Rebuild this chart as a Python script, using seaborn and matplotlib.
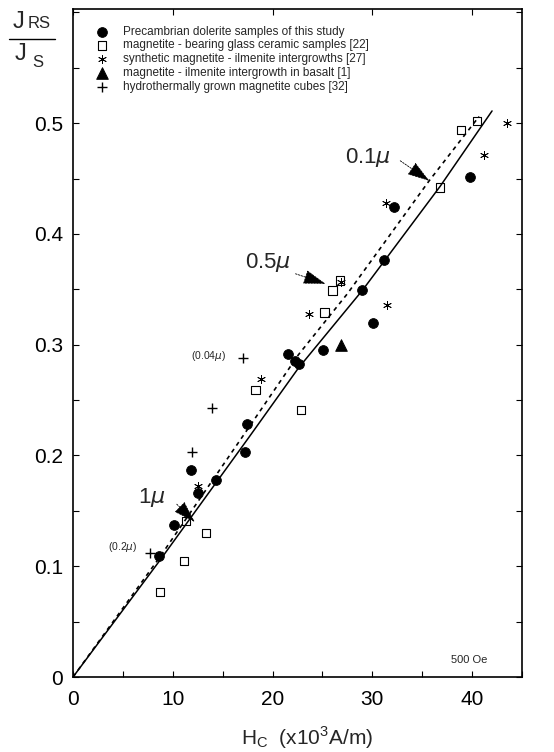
import numpy as np
import pandas as pd
import seaborn as sns
import matplotlib.pyplot as plt
from matplotlib.ticker import MultipleLocator, FixedLocator, FuncFormatter
from matplotlib.lines import Line2D

# Precambrian dolerite samples (filled circles)
circ_x = [8.6, 10.1, 11.85, 12.5, 14.3, 17.25, 17.4, 21.5, 22.2, 22.65, 25.1, 29.0, 30.1, 31.2, 32.2, 39.8]
circ_y = [0.109, 0.137, 0.187, 0.166, 0.178, 0.203, 0.228, 0.292, 0.285, 0.283, 0.295, 0.349, 0.320, 0.376, 0.424, 0.451]

# glass ceramic samples (open squares)
sq_x = [8.7, 11.1, 11.35, 13.3, 18.3, 22.85, 25.2, 26.0, 26.75, 36.8, 38.9, 40.5]
sq_y = [0.077, 0.105, 0.141, 0.130, 0.259, 0.241, 0.329, 0.349, 0.358, 0.442, 0.494, 0.502]

# synthetic intergrowths (asterisks)
ast_x = [12.5, 18.8, 23.65, 26.85, 31.45, 31.4, 41.2, 43.5]
ast_y = [0.172, 0.269, 0.328, 0.357, 0.336, 0.428, 0.471, 0.500]

# intergrowth in basalt (triangle)
tri_x = [26.9]
tri_y = [0.300]

# hydrothermal cubes (plus)
plus_x = [7.74, 11.9, 13.97, 17.06]
plus_y = [0.112, 0.203, 0.243, 0.288]

# theoretical curves
solid_x = [0, 8.6, 17.6, 22.6, 29.0, 36.8, 42.0]
solid_y = [0, 0.104, 0.216, 0.279, 0.349, 0.443, 0.511]
dash_x = [0, 8.6, 17.6, 22.6, 27.5, 35.7, 40.7]
dash_y = [0, 0.107, 0.225, 0.291, 0.346, 0.448, 0.506]

y_ticks = [0, 0.1, 0.2, 0.3, 0.4, 0.5]
x_ticks = [0, 10, 20, 30, 40]

labels = ["Precambrian dolerite samples of this study",
          "magnetite - bearing glass ceramic samples [22]",
          "synthetic magnetite - ilmenite intergrowths [27]",
          "magnetite - ilmenite intergrowth in basalt [1]",
          "hydrothermally grown magnetite cubes [32]"]

sns.set_style("ticks")
plt.rcParams['font.family'] = ['Liberation Sans', 'DejaVu Sans']
plt.rcParams['mathtext.fontset'] = 'dejavusans'

fig = plt.figure(figsize=(5.54, 7.52), dpi=100)
ax = fig.add_axes([0.1318, 0.0997, 0.8104, 0.8883])

sns.lineplot(x=solid_x, y=solid_y, estimator=None, sort=False, color='black', lw=1.1, ax=ax)
sns.lineplot(x=dash_x, y=dash_y, estimator=None, sort=False, color='black', lw=1.2,
             linestyle=(0, (2.5, 2.5)), ax=ax)

sns.scatterplot(x=circ_x, y=circ_y, marker='o', s=50, color='black', edgecolor='black', label=labels[0], ax=ax, zorder=3)
sns.scatterplot(x=sq_x, y=sq_y, marker='s', s=36, facecolor='none', edgecolor='black', linewidth=0.8, label=labels[1], ax=ax, zorder=3)
sns.scatterplot(x=ast_x, y=ast_y, marker=(6, 2, 0), s=34, color='black', linewidth=0.6, label=labels[2], ax=ax, zorder=3)
sns.scatterplot(x=tri_x, y=tri_y, marker='^', s=70, color='black', edgecolor='black', label=labels[3], ax=ax, zorder=3)
sns.scatterplot(x=plus_x, y=plus_y, marker='+', s=60, color='black', linewidth=1.0, label=labels[4], ax=ax, zorder=3)

ax.set_xlim(0, 45)
ax.set_ylim(0, 0.603)
ax.xaxis.set_major_locator(FixedLocator(x_ticks))
ax.xaxis.set_minor_locator(MultipleLocator(5))
ax.yaxis.set_major_locator(FixedLocator(y_ticks))
ax.yaxis.set_minor_locator(MultipleLocator(0.05))
ax.yaxis.set_major_formatter(FuncFormatter(lambda v, p: '0' if abs(v) < 1e-9 else f'{v:.1f}'))
ax.tick_params(which='both', direction='in', top=True, right=True, length=4, width=0.8,
               labelsize=15, colors='black')
ax.tick_params(axis='x', which='minor', top=False)
ax.tick_params(axis='x', pad=9)
ax.tick_params(axis='y', pad=7)
for s in ax.spines.values():
    s.set_linewidth(1.2)
    s.set_color('black')
ax.set_xlabel('')
ax.set_ylabel('')

leg = ax.legend(loc='upper left', bbox_to_anchor=(0.051, 0.975), frameon=False, fontsize=8.5,
                handlelength=1.0, handletextpad=1.3, borderpad=0, borderaxespad=0,
                labelspacing=0.15, scatterpoints=1)

# annotations with arrows
arrow_kw = dict(arrowstyle='-|>,head_length=1.4,head_width=0.45', color='black', lw=0.6,
                linestyle=(0, (2, 1.5)), shrinkA=0, shrinkB=0)
ax.annotate('', xy=(35.7, 0.448), xytext=(32.8, 0.466), arrowprops=arrow_kw)
ax.annotate('', xy=(25.3, 0.355), xytext=(22.3, 0.364), arrowprops=arrow_kw)
ax.annotate('', xy=(12.2, 0.140), xytext=(10.4, 0.156), arrowprops=arrow_kw)
ax.text(29.6, 0.469, r'0.1$\mu$', fontsize=16, ha='center', va='center')
ax.text(19.55, 0.374, r'0.5$\mu$', fontsize=16, ha='center', va='center')
ax.text(7.9, 0.1625, r'1$\mu$', fontsize=16, ha='center', va='center')
ax.text(13.6, 0.290, r'(0.04$\mu$)', fontsize=7.5, ha='center', va='center')
ax.text(5.0, 0.117, r'(0.2$\mu$)', fontsize=7.5, ha='center', va='center')
ax.text(39.7, 0.015, '500 Oe', fontsize=8, ha='center', va='center')

# axis labels
fig.text(0.554, 0.0093, r'$\mathregular{H_C}$  (x10$^{\mathregular{3}}$A/m)', fontsize=15,
         ha='center', va='baseline')
fig.text(0.0235, 0.9628, 'J', fontsize=17, ha='left', va='baseline')
fig.text(0.0505, 0.9628, 'RS', fontsize=12, ha='left', va='baseline')
fig.add_artist(Line2D([0.016, 0.099], [0.948, 0.948], color='black', lw=1.0))
fig.text(0.027, 0.920, 'J', fontsize=17, ha='left', va='baseline')
fig.text(0.058, 0.911, 'S', fontsize=12, ha='left', va='baseline')

fig.savefig('out.png', dpi=100)
